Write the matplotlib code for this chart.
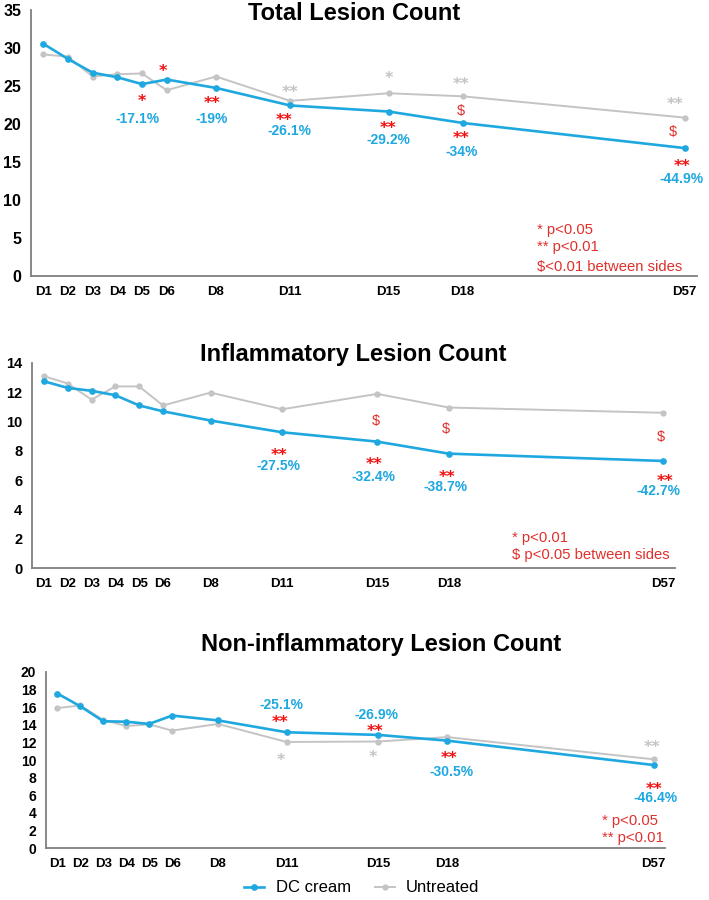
import numpy as np
import matplotlib.pyplot as plt

plt.rcParams["font.family"] = ["Liberation Sans", "DejaVu Sans"]

# category axis with empty slots, as in the original spreadsheet chart
categories = ["D1", "D2", "D3", "D4", "D5", "D6", "", "D8", "", "", "D11", "", "", "", "D15",
              "", "", "D18", "", "", "", "", "", "", "", "", "D57"]

total_dc = [30.5, 28.5, 26.7, 26.1, 25.2, 25.8, 24.7, 22.4, 21.6, 20.1, 16.8]
total_un = [29.1, 28.8, 26.2, 26.5, 26.6, 24.4, 26.2, 23.0, 24.0, 23.6, 20.8]
infl_dc = [12.75, 12.3, 12.1, 11.8, 11.1, 10.7, 10.07, 9.27, 8.63, 7.81, 7.31]
infl_un = [13.1, 12.6, 11.5, 12.4, 12.4, 11.1, 11.98, 10.84, 11.89, 10.96, 10.6]
noninfl_dc = [17.55, 16.1, 14.4, 14.35, 14.1, 15.05, 14.5, 13.15, 12.85, 12.2, 9.43]
noninfl_un = [15.9, 16.2, 14.55, 13.86, 14.05, 13.34, 14.1, 12.05, 12.1, 12.6, 10.08]

titles = ["Total Lesion Count", "Inflammatory Lesion Count", "Non-inflammatory Lesion Count"]
ymax = [35, 14, 20]
ystep = [5, 2, 2]

notes = [["* p<0.05", "** p<0.01", "$<0.01 between sides"],
         ["* p<0.01", "$ p<0.05 between sides"],
         ["* p<0.05", "** p<0.01"]]

# (x in category units, y in data units, text, kind)
marks = [
    [(4.0, 23.4, "*", "sig"), (3.8, 20.6, "-17.1%", "pct"),
     (4.85, 27.3, "*", "sig"),
     (6.84, 23.1, "**", "sig"), (6.84, 20.6, "-19%", "pct"),
     (10.0, 24.6, "**", "ns"), (9.76, 20.9, "**", "sig"), (10.0, 19.05, "-26.1%", "pct"),
     (14.01, 26.4, "*", "ns"), (13.97, 19.8, "**", "sig"), (14.01, 17.9, "-29.2%", "pct"),
     (16.93, 25.6, "**", "ns"), (16.93, 21.7, "$", "dol"), (16.93, 18.5, "**", "sig"), (16.97, 16.3, "-34%", "pct"),
     (25.6, 23.0, "**", "ns"), (25.52, 18.9, "$", "dol"), (25.89, 14.85, "**", "sig"), (25.89, 12.75, "-44.9%", "pct")],
    [(9.87, 7.92, "**", "sig"), (9.87, 6.97, "-27.5%", "pct"),
     (13.94, 10.04, "$", "dol"), (13.86, 7.31, "**", "sig"), (13.82, 6.22, "-32.4%", "pct"),
     (16.88, 9.47, "$", "dol"), (16.92, 6.45, "**", "sig"), (16.85, 5.53, "-38.7%", "pct"),
     (25.9, 8.95, "$", "dol"), (26.09, 6.17, "**", "sig"), (25.79, 5.24, "-42.7%", "pct")],
    [(9.76, 16.3, "-25.1%", "pct"), (9.73, 14.6, "**", "sig"), (9.73, 10.34, "*", "ns"),
     (13.93, 15.08, "-26.9%", "pct"), (13.86, 13.64, "**", "sig"), (13.75, 10.73, "*", "ns"),
     (17.06, 10.57, "**", "sig"), (17.17, 8.64, "-30.5%", "pct"),
     (25.93, 11.78, "**", "ns"), (26.03, 7.09, "**", "sig"), (26.1, 5.68, "-46.4%", "pct")],
]

BLUE = "#1fa8e0"
GRAY = "#c4c4c4"
RED = "#f01010"
NOTE_RED = "#e0302c"

W, H = 709, 900
fig = plt.figure(figsize=(W / 100, H / 100), dpi=100)

# axes boxes in pixels: left, right, top, bottom
boxes = [(31, 697, 9.5, 276), (32, 675, 363, 568), (46, 665, 672, 848)]
title_pos = [(354, 14), (353, 354), (381, 644)]
note_pos = [(20.0, [6.0, 3.8, 1.2]), (19.65, [2.08, 0.87]), (23.77, [3.07, 1.18])]
ytick_size = [11.5, 10.5, 10]

pos = [i for i, c in enumerate(categories) if c]
labels = [c for c in categories if c]
series = [(total_dc, total_un), (infl_dc, infl_un), (noninfl_dc, noninfl_un)]

styles = {
    "sig": dict(color=RED, fontsize=11.5, fontweight="bold", family="DejaVu Sans"),
    "ns": dict(color=GRAY, fontsize=11.5, fontweight="bold", family="DejaVu Sans"),
    "dol": dict(color=NOTE_RED, fontsize=10.5),
    "pct": dict(color=BLUE, fontsize=10, fontweight="bold"),
}

for k in range(3):
    l, r, t, b = boxes[k]
    ax = fig.add_axes([l / W, 1 - b / H, (r - l) / W, (b - t) / H])
    dc, un = series[k]
    ax.plot(pos, un, color=GRAY, lw=1.4, marker="o", ms=3.5, label="Untreated", zorder=2)
    ax.plot(pos, dc, color=BLUE, lw=1.9, marker="o", ms=3.8, label="DC cream", zorder=3)
    ax.set_xlim(-0.5, len(categories) - 0.5)
    ax.set_ylim(0, ymax[k])
    ax.set_xticks(pos)
    ax.set_xticklabels(labels, fontweight="bold", fontsize=9.5)
    ax.set_yticks(np.arange(0, ymax[k] + 1, ystep[k]))
    ax.tick_params(length=0, pad=7)
    for tl in ax.get_yticklabels():
        tl.set_fontweight("bold")
        tl.set_fontsize(ytick_size[k])
    for s in ["top", "right"]:
        ax.spines[s].set_visible(False)
    for s in ["left", "bottom"]:
        ax.spines[s].set_color("#7f7f7f")
        ax.spines[s].set_linewidth(1.3)

    for x, y, txt, kind in marks[k]:
        # asterisks sit high in their box, so nudge them down a little
        dy = -2.5 if kind in ("sig", "ns") else 0
        ax.annotate(txt, (x, y), xytext=(0, dy), textcoords="offset points",
                    ha="center", va="center", **styles[kind])

    nx, nys = note_pos[k]
    for txt, y in zip(notes[k], nys):
        ax.text(nx, y, txt, ha="left", va="center", color=NOTE_RED, fontsize=10.7)

    tx, ty = title_pos[k]
    fig.text(tx / W, 1 - ty / H, titles[k], ha="center", va="center",
             fontsize=17, fontweight="bold")

    if k == 2:
        h, lab = ax.get_legend_handles_labels()
        fig.legend(h[::-1], lab[::-1], loc="center", bbox_to_anchor=(362 / W, 1 - 888 / H),
                   ncol=2, frameon=False, fontsize=12, handlelength=1.2,
                   handletextpad=0.7, columnspacing=1.4)

fig.savefig("out.png", dpi=100)
